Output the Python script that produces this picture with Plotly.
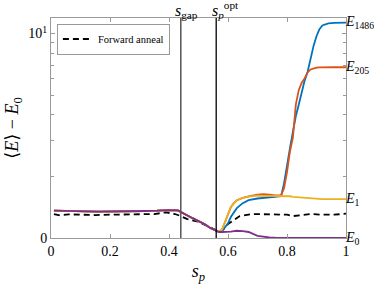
import numpy as np
import plotly.graph_objects as go

# ---------------- data ----------------
s = [0.01, 0.04, 0.08, 0.12, 0.16, 0.20, 0.24, 0.28, 0.32, 0.36, 0.40, 0.43, 0.44,
     0.46, 0.48, 0.50, 0.52, 0.54, 0.56, 0.57, 0.58, 0.59, 0.60, 0.61, 0.62, 0.63,
     0.65, 0.67, 0.70, 0.72, 0.74, 0.76, 0.78, 0.79, 0.80, 0.81, 0.82, 0.83, 0.84,
     0.85, 0.86, 0.87, 0.88, 0.89, 0.90, 0.91, 0.92, 0.94, 0.96, 0.98, 1.00]

common = [1.36, 1.36, 1.35, 1.35, 1.345, 1.345, 1.345, 1.35, 1.355, 1.36, 1.37, 1.365, 1.34,
          1.29, 1.25, 1.21, 1.17, 1.12, 1.085]

E1486 = common + [1.07, 1.08, 1.13, 1.18, 1.27, 1.34, 1.40,
                  1.48, 1.53, 1.56, 1.57, 1.58, 1.59, 1.60, 1.85, 2.30, 2.75, 3.30, 3.95, 4.50,
                  5.20, 5.90, 6.50, 7.60, 8.70, 9.70, 10.5, 10.95, 11.2, 11.28, 11.3, 11.3]
E205 = common + [1.07, 1.10, 1.20, 1.31, 1.42, 1.48, 1.53,
                 1.57, 1.60, 1.63, 1.64, 1.63, 1.615, 1.62, 1.75, 2.10, 2.65, 3.10, 4.50, 5.30,
                 5.75, 6.05, 6.45, 6.67, 6.77, 6.81, 6.83, 6.84, 6.84, 6.84, 6.84, 6.84]
E1 = common + [1.07, 1.10, 1.20, 1.31, 1.42, 1.48, 1.53,
               1.57, 1.595, 1.61, 1.61, 1.61, 1.61, 1.61, 1.61, 1.60, 1.60, 1.59, 1.585, 1.58,
               1.575, 1.57, 1.565, 1.56, 1.555, 1.55, 1.55, 1.55, 1.55, 1.55, 1.55, 1.55]
E0 = common + [1.07, 1.07, 1.07, 1.075, 1.075, 1.08, 1.085,
               1.08, 1.07, 1.025, 1.012, 1.006, 1.004, 1.003, 1.002, 1.002, 1.001, 1.001, 1.001, 1.0,
               1.0, 1.0, 1.0, 1.0, 1.0, 1.0, 1.0, 1.0, 1.0, 1.0, 1.0, 1.0]

s_fwd = [0.01, 0.03, 0.06, 0.10, 0.15, 0.20, 0.25, 0.30, 0.35, 0.39, 0.42, 0.44, 0.46,
         0.50, 0.53, 0.55, 0.57, 0.59, 0.60, 0.62, 0.64, 0.68, 0.72, 0.76, 0.80, 0.82,
         0.85, 0.88, 0.92, 0.96, 1.00]
fwd = [1.31, 1.29, 1.305, 1.30, 1.295, 1.30, 1.30, 1.305, 1.31, 1.335, 1.31, 1.28, 1.24,
       1.20, 1.15, 1.11, 1.07, 1.12, 1.17, 1.23, 1.28, 1.31, 1.31, 1.30, 1.30, 1.28,
       1.30, 1.31, 1.30, 1.30, 1.315]

s_gap = 0.44
s_opt = 0.56

series_subs = ["1486", "205", "1", "0"]
series_vals = [E1486, E205, E1, E0]
colors = ["#0072BD", "#D95319", "#EDB120", "#7E2F8E"]

x_ticks = [0, 0.2, 0.4, 0.6, 0.8, 1]
x_ticktext = ["0", "0.2", "0.4", "0.6", "0.8", "1"]
y_ticks = [1, 10]
y_ticktext = ["0", "10<sup>1</sup>"]
y_minor = [2, 3, 4, 5, 6, 7, 8, 9]

FONT = "Liberation Serif, DejaVu Serif, serif"
AX = "#9a9a9a"

fig = go.Figure()

fig.add_trace(go.Scatter(x=s_fwd, y=fwd, mode="lines", name="Forward anneal",
                         line=dict(color="black", width=1.8, dash="6px,4px")))

for sub, vals, col in zip(series_subs, series_vals, colors):
    fig.add_trace(go.Scatter(x=s, y=vals, mode="lines", name="E" + sub, showlegend=False,
                             line=dict(color=col, width=1.8)))

# vertical reference lines
fig.add_shape(type="line", x0=s_gap, x1=s_gap, y0=0, y1=1, xref="x", yref="paper",
              line=dict(color="#555555", width=1.5))
fig.add_shape(type="line", x0=s_opt, x1=s_opt, y0=0, y1=1, xref="x", yref="paper",
              line=dict(color="black", width=1.3))

fig.add_annotation(x=s_gap, y=1, xref="x", yref="paper", yanchor="bottom", xanchor="center",
                   xshift=6, yshift=-5, showarrow=False,
                   text="<i>s</i><sub>gap</sub>", font=dict(family=FONT, size=16, color="black"))
fig.add_annotation(x=s_opt, y=1, xref="x", yref="paper", yanchor="bottom", xanchor="center",
                   xshift=9, yshift=-5, showarrow=False,
                   text="<i>s</i><sub><i>p</i></sub><sup>opt</sup>",
                   font=dict(family=FONT, size=16, color="black"))

# right-side series labels
for sub, vals in zip(series_subs, series_vals):
    fig.add_annotation(x=1, y=np.log10(vals[-1]), xref="paper", yref="y", xanchor="left",
                       yanchor="middle", showarrow=False, xshift=-3,
                       text="<i>E</i><sub>" + sub + "</sub>",
                       font=dict(family=FONT, size=14, color="black"))

fig.update_layout(
    width=374, height=284,
    margin=dict(l=51, r=28, t=18, b=46, autoexpand=False),
    plot_bgcolor="white", paper_bgcolor="white",
    font=dict(family=FONT, size=14, color="black"),
    showlegend=True,
    legend=dict(x=0.02, y=0.975, xanchor="left", yanchor="top",
                bgcolor="white", bordercolor="#999999", borderwidth=1,
                font=dict(family=FONT, size=10.5), itemwidth=30,
                tracegroupgap=0),
    xaxis=dict(range=[0, 1], tickvals=x_ticks, ticktext=x_ticktext, automargin=False,
               ticks="inside", ticklen=4, tickcolor=AX, showline=True, linecolor=AX,
               linewidth=1, mirror="allticks", showgrid=False, zeroline=False,
               title=dict(text="<i>s</i><sub><i>p</i></sub>", font=dict(size=18), standoff=6)),
    yaxis=dict(type="log", range=[0, 1.0758], tickvals=y_ticks, ticktext=y_ticktext,
               automargin=False,
               ticks="inside", ticklen=4, tickcolor=AX, showline=True, linecolor=AX,
               linewidth=1, mirror="allticks", showgrid=False, zeroline=False,
               minor=dict(tickvals=y_minor, ticks="inside", ticklen=3, tickcolor=AX,
                          showgrid=False),
               title=dict(text="⟨<i>E</i>⟩ − <i>E</i><sub>0</sub>", font=dict(size=18),
                          standoff=4)),
)

fig.write_html("out.html", config={"displayModeBar": False},
               post_script="document.body.style.margin='0';")
